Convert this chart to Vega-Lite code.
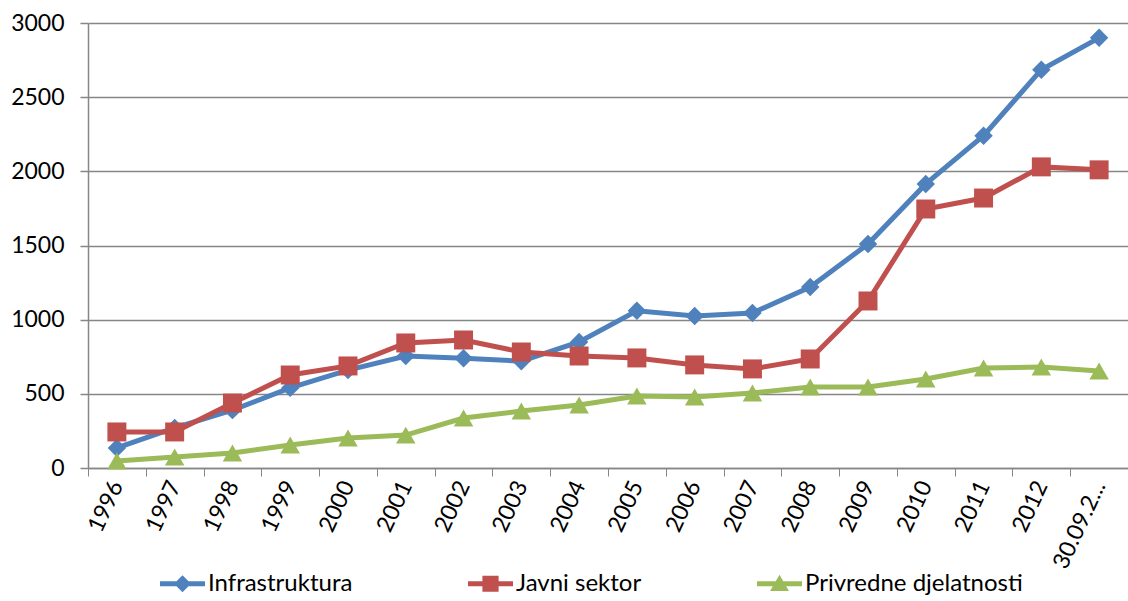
{
  "$schema": "https://vega.github.io/schema/vega-lite/v6.json",
  "width": 1040,
  "height": 445,
  "autosize": {"type": "none"},
  "padding": {"left": 88, "top": 23, "right": 0, "bottom": 133},
  "background": "white",
  "config": {
    "font": "Lato",
    "view": {"stroke": null},
    "axis": {"labelFont": "Lato", "labelFontSize": 23, "labelColor": "#000000", "domainColor": "#868686", "tickColor": "#868686", "gridColor": "#868686", "titleFont": "Lato"}
  },
  "data": {"values": [
    {"year": "1996", "series": "Infrastruktura", "value": 135},
    {"year": "1997", "series": "Infrastruktura", "value": 270},
    {"year": "1998", "series": "Infrastruktura", "value": 390},
    {"year": "1999", "series": "Infrastruktura", "value": 540},
    {"year": "2000", "series": "Infrastruktura", "value": 660},
    {"year": "2001", "series": "Infrastruktura", "value": 755},
    {"year": "2002", "series": "Infrastruktura", "value": 740},
    {"year": "2003", "series": "Infrastruktura", "value": 720},
    {"year": "2004", "series": "Infrastruktura", "value": 850},
    {"year": "2005", "series": "Infrastruktura", "value": 1060},
    {"year": "2006", "series": "Infrastruktura", "value": 1025},
    {"year": "2007", "series": "Infrastruktura", "value": 1045},
    {"year": "2008", "series": "Infrastruktura", "value": 1220},
    {"year": "2009", "series": "Infrastruktura", "value": 1510},
    {"year": "2010", "series": "Infrastruktura", "value": 1915},
    {"year": "2011", "series": "Infrastruktura", "value": 2240},
    {"year": "2012", "series": "Infrastruktura", "value": 2685},
    {"year": "30.09.2013", "series": "Infrastruktura", "value": 2900},
    {"year": "1996", "series": "Javni sektor", "value": 243},
    {"year": "1997", "series": "Javni sektor", "value": 243},
    {"year": "1998", "series": "Javni sektor", "value": 438},
    {"year": "1999", "series": "Javni sektor", "value": 627},
    {"year": "2000", "series": "Javni sektor", "value": 688},
    {"year": "2001", "series": "Javni sektor", "value": 843},
    {"year": "2002", "series": "Javni sektor", "value": 863},
    {"year": "2003", "series": "Javni sektor", "value": 782},
    {"year": "2004", "series": "Javni sektor", "value": 755},
    {"year": "2005", "series": "Javni sektor", "value": 742},
    {"year": "2006", "series": "Javni sektor", "value": 695},
    {"year": "2007", "series": "Javni sektor", "value": 668},
    {"year": "2008", "series": "Javni sektor", "value": 735},
    {"year": "2009", "series": "Javni sektor", "value": 1126},
    {"year": "2010", "series": "Javni sektor", "value": 1746},
    {"year": "2011", "series": "Javni sektor", "value": 1820},
    {"year": "2012", "series": "Javni sektor", "value": 2030},
    {"year": "30.09.2013", "series": "Javni sektor", "value": 2010},
    {"year": "1996", "series": "Privredne djelatnosti", "value": 47},
    {"year": "1997", "series": "Privredne djelatnosti", "value": 74},
    {"year": "1998", "series": "Privredne djelatnosti", "value": 101},
    {"year": "1999", "series": "Privredne djelatnosti", "value": 155},
    {"year": "2000", "series": "Privredne djelatnosti", "value": 202},
    {"year": "2001", "series": "Privredne djelatnosti", "value": 222},
    {"year": "2002", "series": "Privredne djelatnosti", "value": 337},
    {"year": "2003", "series": "Privredne djelatnosti", "value": 384},
    {"year": "2004", "series": "Privredne djelatnosti", "value": 425},
    {"year": "2005", "series": "Privredne djelatnosti", "value": 485},
    {"year": "2006", "series": "Privredne djelatnosti", "value": 479},
    {"year": "2007", "series": "Privredne djelatnosti", "value": 506},
    {"year": "2008", "series": "Privredne djelatnosti", "value": 546},
    {"year": "2009", "series": "Privredne djelatnosti", "value": 546},
    {"year": "2010", "series": "Privredne djelatnosti", "value": 600},
    {"year": "2011", "series": "Privredne djelatnosti", "value": 674},
    {"year": "2012", "series": "Privredne djelatnosti", "value": 681},
    {"year": "30.09.2013", "series": "Privredne djelatnosti", "value": 654}
  ]},
  "encoding": {
    "x": {
      "field": "year", "type": "ordinal", "sort": null, "bandPosition": 0.5,
      "scale": {"type": "band", "paddingInner": 0, "paddingOuter": 0},
      "axis": {"title": null, "labelAngle": -65, "labelAlign": "right", "labelBaseline": "middle", "labelPadding": 6, "tickBand": "extent", "tickSize": 8, "domainWidth": 1.5,
        "labelExpr": "datum.value == '30.09.2013' ? '30.09.2...' : datum.value"}
    },
    "y": {
      "field": "value", "type": "quantitative",
      "scale": {"domain": [0, 3000], "nice": false},
      "axis": {"title": null, "format": "d", "values": [0, 500, 1000, 1500, 2000, 2500, 3000], "tickSize": 8, "labelPadding": 16, "grid": true, "gridWidth": 1.5, "domainWidth": 1.5, "tickWidth": 1.5}
    }
  },
  "layer": [
    {
      "transform": [{"filter": "datum.series == 'Infrastruktura'"}],
      "mark": {"type": "line", "strokeWidth": 5, "color": "#4F81BD"},
      "encoding": {}
    },
    {
      "transform": [{"filter": "datum.series == 'Javni sektor'"}],
      "mark": {"type": "line", "strokeWidth": 5, "color": "#C0504D"},
      "encoding": {}
    },
    {
      "transform": [{"filter": "datum.series == 'Privredne djelatnosti'"}],
      "mark": {"type": "line", "strokeWidth": 5, "color": "#9BBB59"},
      "encoding": {}
    },
    {
      "transform": [{"filter": "datum.series == 'Infrastruktura'"}],
      "mark": {"type": "point", "filled": true, "opacity": 1, "size": 340, "shape": "diamond", "color": "#4F81BD"},
      "encoding": {}
    },
    {
      "transform": [{"filter": "datum.series == 'Javni sektor'"}],
      "mark": {"type": "point", "filled": true, "opacity": 1, "size": 360, "shape": "square", "color": "#C0504D"},
      "encoding": {}
    },
    {
      "transform": [{"filter": "datum.series == 'Privredne djelatnosti'"}],
      "mark": {"type": "point", "filled": true, "opacity": 1, "size": 380, "shape": "triangle-up", "color": "#9BBB59"},
      "encoding": {}
    },
    {
      "mark": {"type": "point", "filled": true, "opacity": 0, "size": 0},
      "encoding": {
        "color": {"field": "series", "type": "nominal",
          "scale": {"domain": ["Infrastruktura", "Javni sektor", "Privredne djelatnosti"], "range": ["#4F81BD", "#C0504D", "#9BBB59"]},
          "legend": {"title": null, "orient": "none", "legendX": 72, "legendY": 538, "direction": "horizontal", "symbolSize": 2025, "symbolStrokeWidth": 0, "symbolOpacity": 1, "labelFont": "Lato", "labelFontSize": 24, "labelColor": "#000000", "columnPadding": 115, "labelOffset": 3, "labelLimit": 400}},
        "shape": {"field": "series", "type": "nominal",
          "scale": {"domain": ["Infrastruktura", "Javni sektor", "Privredne djelatnosti"], "range": [
            "M-1,-0.11H1V0.11H-1Z M0,-0.38L0.38,0L0,0.38L-0.38,0Z",
            "M-1,-0.11H1V0.11H-1Z M-0.36,-0.36H0.36V0.36H-0.36Z",
            "M-1,-0.11H1V0.11H-1Z M0,-0.4L0.42,0.32H-0.42Z"]},
          "legend": {"title": null, "orient": "none", "legendX": 72, "legendY": 538, "direction": "horizontal", "symbolSize": 2025, "symbolStrokeWidth": 0, "symbolOpacity": 1, "labelFont": "Lato", "labelFontSize": 24, "labelColor": "#000000", "columnPadding": 115, "labelOffset": 3, "labelLimit": 400}}
      }
    }
  ]
}
